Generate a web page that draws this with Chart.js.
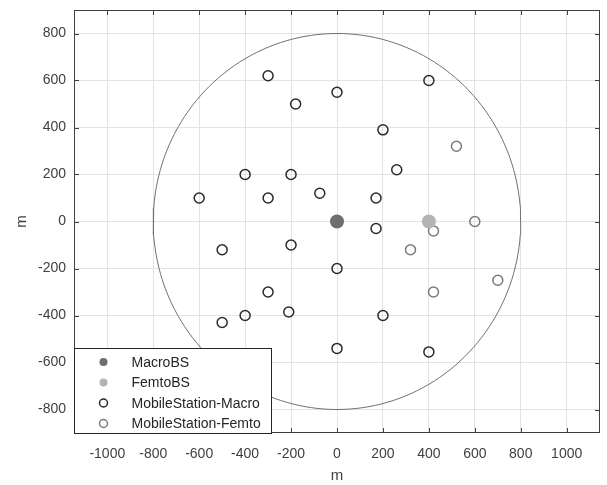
<!DOCTYPE html>
<html>
<head>
<meta charset="utf-8">
<script src="https://cdn.jsdelivr.net/npm/chart.js@4/dist/chart.umd.min.js"></script>
<style>
  html, body { margin: 0; padding: 0; background: #fff; }
  canvas { display: block; }
</style>
</head>
<body>
<canvas id="c" width="607" height="485"></canvas>
<script>
// Base station positions (m)
const macroBS = [{ x: 0, y: 0 }];
const femtoBS = [{ x: 400, y: 0 }];

// Mobile stations served by the macro cell (m)
const msMacro = [
  { x: -300, y: 620 }, { x: -180, y: 500 }, { x: 0, y: 550 }, { x: 400, y: 600 },
  { x: 200, y: 390 }, { x: -400, y: 200 }, { x: -200, y: 200 }, { x: 260, y: 220 },
  { x: -600, y: 100 }, { x: -300, y: 100 }, { x: -75, y: 120 }, { x: 170, y: 100 },
  { x: 170, y: -30 }, { x: -200, y: -100 }, { x: -500, y: -120 }, { x: 0, y: -200 },
  { x: -300, y: -300 }, { x: -400, y: -400 }, { x: -210, y: -385 }, { x: -500, y: -430 },
  { x: 200, y: -400 }, { x: 0, y: -540 }, { x: 400, y: -555 }
];

// Mobile stations served by the femto cell (m)
const msFemto = [
  { x: 520, y: 320 }, { x: 600, y: 0 }, { x: 420, y: -40 },
  { x: 320, y: -120 }, { x: 700, y: -250 }, { x: 420, y: -300 }
];

// Macro cell coverage boundary
const cellRadius = 800;
const cellCenter = { x: 0, y: 0 };

// Axis ticks and limits
const xTicks = [-1000, -800, -600, -400, -200, 0, 200, 400, 600, 800, 1000];
const yTicks = [-800, -600, -400, -200, 0, 200, 400, 600, 800];
const xLimits = [-1145, 1145];
const yLimits = [-900, 900];

const boundary = [];
for (let a = 0; a <= 360; a += 2) {
  const t = a * Math.PI / 180;
  boundary.push({ x: cellCenter.x + cellRadius * Math.cos(t), y: cellCenter.y + cellRadius * Math.sin(t) });
}

const FONT = 'Liberation Sans, Arial, sans-serif';
const TEXT = '#404040';
const AXIS = '#404040';

// Box around the axes with inward tick marks on every side
const boxAxes = {
  id: 'boxAxes',
  afterDatasetsDraw(chart) {
    const { ctx, chartArea: a, scales: { x, y } } = chart;
    ctx.save();
    ctx.strokeStyle = AXIS;
    ctx.lineWidth = 1;
    ctx.beginPath();
    const L = 5;
    xTicks.forEach(v => {
      const px = Math.round(x.getPixelForValue(v)) + 0.5;
      ctx.moveTo(px, a.top); ctx.lineTo(px, a.top + L);
      ctx.moveTo(px, a.bottom); ctx.lineTo(px, a.bottom - L);
    });
    yTicks.forEach(v => {
      const py = Math.round(y.getPixelForValue(v)) + 0.5;
      ctx.moveTo(a.left, py); ctx.lineTo(a.left + L, py);
      ctx.moveTo(a.right, py); ctx.lineTo(a.right - L, py);
    });
    ctx.stroke();
    ctx.strokeRect(Math.round(a.left) + 0.5, Math.round(a.top) + 0.5,
      Math.round(a.right - a.left) - 1, Math.round(a.bottom - a.top) - 1);
    ctx.restore();
  }
};

// Legend box in the lower-left corner of the axes
const cornerLegend = {
  id: 'cornerLegend',
  afterDraw(chart) {
    const { ctx, chartArea: a } = chart;
    const items = chart.data.datasets.filter(d => d.inLegend);
    const rowH = 20.5;
    const w = 197, h = 85;
    const x0 = Math.round(a.left) + 0.5, y0 = Math.round(a.bottom) - h + 0.5;
    ctx.save();
    ctx.fillStyle = '#fff';
    ctx.fillRect(x0, y0, w, h);
    ctx.strokeStyle = '#262626';
    ctx.lineWidth = 1;
    ctx.strokeRect(x0, y0, w, h);
    ctx.font = '14px ' + FONT;
    ctx.textBaseline = 'middle';
    ctx.textAlign = 'left';
    items.forEach((d, i) => {
      const cy = y0 + 13.5 + i * rowH;
      const cx = x0 + 29;
      ctx.beginPath();
      ctx.arc(cx, cy, 4, 0, Math.PI * 2);
      if (d.backgroundColor && d.backgroundColor !== 'transparent') {
        ctx.fillStyle = d.backgroundColor; ctx.fill();
      } else {
        ctx.strokeStyle = d.borderColor; ctx.lineWidth = 1.5; ctx.stroke();
      }
      ctx.fillStyle = '#262626';
      ctx.fillText(d.label, x0 + 57, cy + 1);
    });
    ctx.restore();
  }
};

const plainNumber = v => String(v);

new Chart(document.getElementById('c'), {
  type: 'scatter',
  data: {
    datasets: [
      { label: 'MacroBS', data: macroBS, inLegend: true, pointRadius: 7, pointHoverRadius: 7,
        backgroundColor: '#6e6e6e', borderColor: '#6e6e6e', borderWidth: 0 },
      { label: 'FemtoBS', data: femtoBS, inLegend: true, pointRadius: 7, pointHoverRadius: 7,
        backgroundColor: '#b4b4b4', borderColor: '#b4b4b4', borderWidth: 0 },
      { label: 'MobileStation-Macro', data: msMacro, inLegend: true, pointRadius: 5,
        backgroundColor: 'transparent', borderColor: '#2a2a2a', borderWidth: 1.5 },
      { label: 'MobileStation-Femto', data: msFemto, inLegend: true, pointRadius: 5,
        backgroundColor: 'transparent', borderColor: '#7a7a7a', borderWidth: 1.5 },
      { label: 'Cell boundary', data: boundary, showLine: true, pointRadius: 0,
        borderColor: '#707070', borderWidth: 1, fill: false, tension: 0 }
    ]
  },
  options: {
    responsive: false,
    animation: false,
    layout: { padding: { top: 10, right: 7, left: 0, bottom: 0 } },
    plugins: { legend: { display: false }, tooltip: { enabled: false } },
    scales: {
      x: {
        type: 'linear', min: xLimits[0], max: xLimits[1],
        afterBuildTicks(s) { s.ticks = xTicks.map(v => ({ value: v })); },
        afterFit(s) { s.height = 52; s.paddingLeft = 0; s.paddingRight = 0; },
        border: { display: false },
        grid: { color: '#e3e3e3', lineWidth: 1, drawTicks: false },
        ticks: { color: TEXT, font: { family: FONT, size: 14 }, padding: 13, maxRotation: 0,
                 autoSkip: false, callback: plainNumber },
        title: { display: true, text: 'm', color: TEXT, font: { family: FONT, size: 15 }, padding: 0 }
      },
      y: {
        type: 'linear', min: yLimits[0], max: yLimits[1],
        afterBuildTicks(s) { s.ticks = yTicks.map(v => ({ value: v })); },
        afterFit(s) { s.width = 74; s.paddingTop = 0; s.paddingBottom = 0; },
        border: { display: false },
        grid: { color: '#e3e3e3', lineWidth: 1, drawTicks: false },
        ticks: { color: TEXT, font: { family: FONT, size: 14 }, padding: 8, autoSkip: false,
                 callback: plainNumber },
        title: { display: true, text: 'm', color: TEXT, font: { family: FONT, size: 15 }, padding: { top: 13 } }
      }
    }
  },
  plugins: [boxAxes, cornerLegend]
});
</script>
</body>
</html>
